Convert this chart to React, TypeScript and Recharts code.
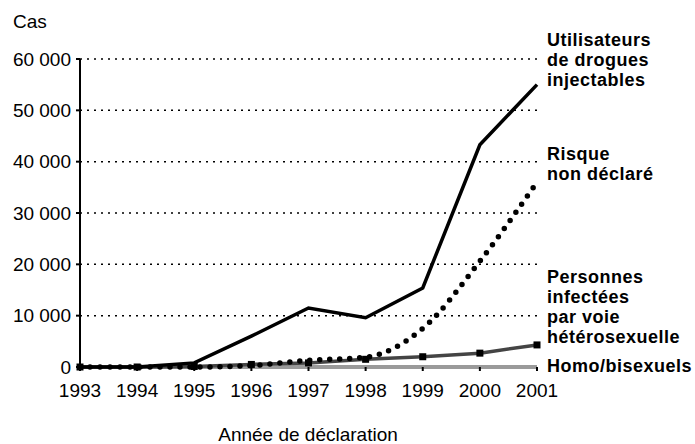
import React from "react";
import {
  CartesianGrid,
  Line,
  LineChart,
  XAxis,
  YAxis,
} from "recharts";

const years = ["1993", "1994", "1995", "1996", "1997", "1998", "1999", "2000", "2001"];
const injectingDrugUsers = [0, 0, 800, 6000, 11500, 9600, 15400, 43300, 55000];
const undeclaredRisk = [0, 0, 0, 300, 1300, 1900, 7500, 20600, 36000];
const heterosexual = [0, 0, 100, 500, 800, 1500, 2000, 2700, 4300];
const homoBisexual = [0, 0, 0, 0, 0, 0, 0, 0, 0];
const yTicks = [0, 10000, 20000, 30000, 40000, 50000, 60000];

const data = years.map((year, i) => ({
  year,
  udi: injectingDrugUsers[i],
  risk: undeclaredRisk[i],
  hetero: heterosexual[i],
  homo: homoBisexual[i],
}));

const FONT = "'Liberation Sans', Arial, sans-serif";

const fmt = (v: number) => (v === 0 ? "0" : `${v / 1000} 000`);

function SquareDot(props: any) {
  const { cx, cy, index } = props;
  if (cx == null || cy == null) return null;
  return <rect key={index} x={cx - 3.5} y={cy - 3.5} width={7} height={7} fill="#000" />;
}

const labelStyle: React.CSSProperties = {
  position: "absolute",
  left: 547,
  fontFamily: FONT,
  fontWeight: 700,
  fontSize: 18,
  lineHeight: "20px",
  letterSpacing: 0.5,
  color: "#000",
  whiteSpace: "nowrap",
};

export default function App() {
  return (
    <div
      style={{
        position: "absolute",
        left: 0,
        top: 0,
        width: 695,
        height: 444,
        background: "#fff",
        fontFamily: FONT,
      }}
    >
      <LineChart
        width={695}
        height={444}
        data={data}
        margin={{ top: 59, right: 158, bottom: 47, left: 0 }}
      >
        <CartesianGrid
          vertical={false}
          stroke="#000"
          strokeWidth={1.5}
          strokeDasharray="2 5"
        />
        <XAxis
          dataKey="year"
          height={30}
          axisLine={false}
          tickLine={{ stroke: "#000", strokeWidth: 2 }}
          tickSize={4}
          tickMargin={13}
          tick={{ fill: "#000", fontSize: 19, fontFamily: FONT }}
          interval={0}
        />
        <YAxis
          width={80}
          domain={[0, 60000]}
          ticks={yTicks}
          tickFormatter={fmt}
          stroke="#000"
          strokeWidth={2}
          tickSize={4}
          tickMargin={5}
          tick={{ fill: "#000", fontSize: 19, fontFamily: FONT }}
        />
        <Line
          dataKey="homo"
          stroke="#9a9a9a"
          strokeWidth={4}
          dot={false}
          isAnimationActive={false}
        />
        <Line
          dataKey="hetero"
          stroke="#444"
          strokeWidth={3.5}
          dot={SquareDot}
          isAnimationActive={false}
        />
        <Line
          type="monotone"
          dataKey="risk"
          stroke="#000"
          strokeWidth={5.5}
          strokeDasharray="0 10"
          strokeLinecap="round"
          dot={false}
          isAnimationActive={false}
        />
        <Line
          dataKey="udi"
          stroke="#000"
          strokeWidth={3.5}
          dot={false}
          isAnimationActive={false}
        />
      </LineChart>
      <div style={{ position: "absolute", left: 13, top: 12, fontSize: 19, lineHeight: "20px" }}>
        Cas
      </div>
      <div
        style={{
          position: "absolute",
          left: 308,
          top: 425,
          transform: "translateX(-50%)",
          fontSize: 19,
          lineHeight: "20px",
          whiteSpace: "nowrap",
        }}
      >
        Année de déclaration
      </div>
      <div style={{ ...labelStyle, top: 30 }}>
        Utilisateurs
        <br />
        de drogues
        <br />
        injectables
      </div>
      <div style={{ ...labelStyle, top: 144 }}>
        Risque
        <br />
        non déclaré
      </div>
      <div style={{ ...labelStyle, top: 267 }}>
        Personnes
        <br />
        infectées
        <br />
        par voie
        <br />
        hétérosexuelle
      </div>
      <div style={{ ...labelStyle, top: 356 }}>Homo/bisexuels</div>
    </div>
  );
}
